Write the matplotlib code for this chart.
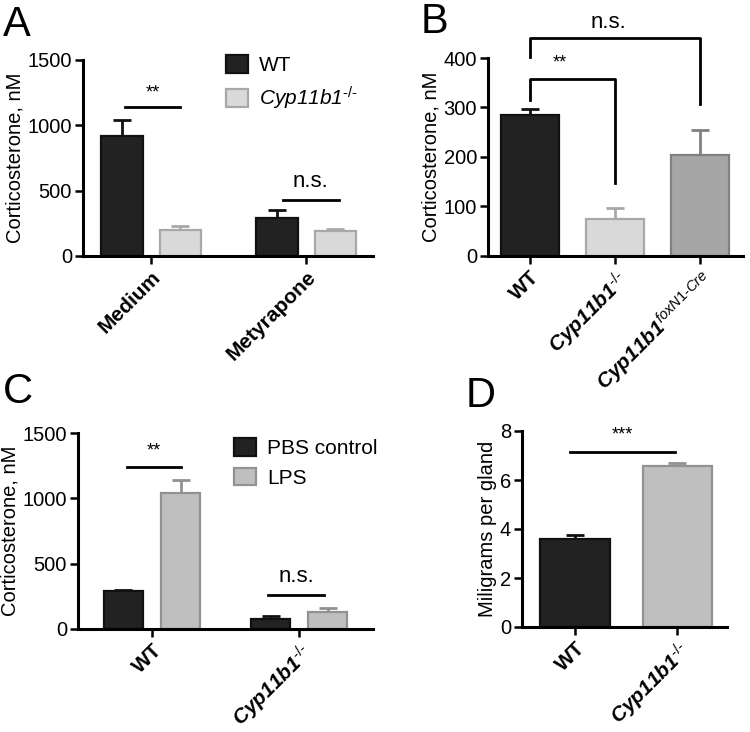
import numpy as np
import matplotlib
matplotlib.use('Agg')
import matplotlib.pyplot as plt
from matplotlib.patches import Patch

plt.rcParams['font.family'] = ['Liberation Sans', 'DejaVu Sans']
plt.rcParams['mathtext.fontset'] = 'custom'
plt.rcParams['mathtext.rm'] = 'Liberation Sans'
plt.rcParams['mathtext.it'] = 'Liberation Sans:italic'
plt.rcParams['mathtext.bf'] = 'Liberation Sans:bold'

# Панель A
a_groups = ['Medium', 'Metyrapone']
a_wt = [920, 290]
a_wt_err = [120, 65]
a_ko = [200, 195]
a_ko_err = [30, 15]

# Панель B
b_labels = ['WT', r'Cyp11b1$^{\text{-/-}}$', r'Cyp11b1$^{foxN1\text{-}Cre}$']
b_vals = [285, 75, 205]
b_err = [12, 22, 50]

# Панель C
c_groups = ['WT', r'Cyp11b1$^{\text{-/-}}$']
c_pbs = [290, 75]
c_pbs_err = [10, 25]
c_lps = [1040, 130]
c_lps_err = [100, 30]

# Панель D
d_labels = ['WT', r'Cyp11b1$^{\text{-/-}}$']
d_vals = [3.6, 6.57]
d_err = [0.15, 0.13]

BLACK = '#222222'
BLACK_E = '#111111'
LIGHT = '#d9d9d9'
LIGHT_E = '#a8a8a8'
MID = '#bfbfbf'
MID_E = '#929292'
DARK = '#a6a6a6'
DARK_E = '#808080'

W, H = 750, 732
fig = plt.figure(figsize=(7.5, 7.32), dpi=100)


def add_axes(l, r, b, t):
    return fig.add_axes([l / W, 1 - b / H, (r - l) / W, (b - t) / H])


def style(ax):
    for s in ['top', 'right']:
        ax.spines[s].set_visible(False)
    for s in ['left', 'bottom']:
        ax.spines[s].set_linewidth(2.2)
    ax.tick_params(axis='both', length=6, width=1.8, labelsize=14.5, pad=2)
    ax.tick_params(axis='x', length=6, pad=2)


def bars(ax, x, vals, errs, width, fc, ec):
    ax.bar(x, vals, width=width, color=fc, edgecolor=ec, linewidth=1.6, zorder=2)
    ax.errorbar(x, vals, yerr=[np.zeros(len(vals)), errs], fmt='none',
                ecolor=ec, elinewidth=2, capsize=6.5, capthick=2, zorder=1)


def xlabels(ax, labels):
    ax.set_xticks(np.arange(len(labels)))
    ax.set_xticklabels(labels, rotation=45, ha='right', rotation_mode='anchor',
                       fontweight='bold', fontsize=15)
    for t in ax.get_xticklabels():
        if t.get_text().startswith('Cyp'):
            t.set_fontstyle('italic')


def sig(ax, x0, x1, y, text, ty, fs=13):
    ax.plot([x0, x1], [y, y], color='black', lw=2, clip_on=False)
    ax.text((x0 + x1) / 2, ty, text, ha='center', va='center', fontsize=fs)


def legend(ax, colors, labels, x, y):
    leg = ax.legend(handles=[Patch(facecolor=fc, edgecolor=ec, lw=1.6) for fc, ec in colors],
                    labels=labels, loc='upper left', bbox_to_anchor=(x / W, 1 - y / H),
                    bbox_transform=fig.transFigure, frameon=False, fontsize=15,
                    handlelength=1.05, handleheight=0.95, handletextpad=0.55,
                    labelspacing=0.45, borderaxespad=0, borderpad=0)
    for t in leg.get_texts():
        if t.get_text().startswith('Cyp'):
            t.set_fontstyle('italic')


# ---- A ----
ax = add_axes(83, 373, 256, 60)
style(ax)
x = np.arange(len(a_groups))
bars(ax, x - 0.19, a_wt, a_wt_err, 0.27, BLACK, BLACK_E)
bars(ax, x + 0.19, a_ko, a_ko_err, 0.27, LIGHT, LIGHT_E)
ax.set_xlim(-0.439, 1.432)
ax.set_ylim(0, 1500)
ax.set_yticks([0, 500, 1000, 1500])
xlabels(ax, a_groups)
ax.set_ylabel('Corticosterone, nM', fontsize=14.5, labelpad=2)
sig(ax, -0.17, 0.19, 1140, '**', 1250)
sig(ax, 0.85, 1.21, 428, 'n.s.', 570, fs=16)
legend(ax, [(BLACK, BLACK_E), (LIGHT, LIGHT_E)], ['WT', r'Cyp11b1$^{\text{-/-}}$'], 226, 55)
fig.text(3 / W, 1 - 25 / H, 'A', fontsize=30, va='center', ha='left')

# ---- B ----
ax = add_axes(488, 743, 256, 58)
style(ax)
x = np.arange(len(b_vals))
for i, (fc, ec) in enumerate([(BLACK, BLACK_E), (LIGHT, LIGHT_E), (DARK, DARK_E)]):
    bars(ax, [x[i]], [b_vals[i]], [b_err[i]], 0.68, fc, ec)
ax.set_xlim(-0.49, 2.5)
ax.set_ylim(0, 400)
ax.set_yticks([0, 100, 200, 300, 400])
xlabels(ax, b_labels)
ax.set_ylabel('Corticosterone, nM', fontsize=14.5, labelpad=2)
ax.plot([0, 0, 1, 1], [315, 357, 357, 148], color='black', lw=2, clip_on=False)
ax.text(0.35, 390, '**', ha='center', va='center', fontsize=13)
ax.plot([0, 0, 2, 2], [402, 440, 440, 307], color='black', lw=2, clip_on=False)
ax.text(0.92, 472, 'n.s.', ha='center', va='center', fontsize=16)
fig.text(421 / W, 1 - 22 / H, 'B', fontsize=30, va='center', ha='left')

# ---- C ----
ax = add_axes(78, 373, 629, 433)
style(ax)
x = np.arange(len(c_groups))
bars(ax, x - 0.194, c_pbs, c_pbs_err, 0.265, BLACK, BLACK_E)
bars(ax, x + 0.194, c_lps, c_lps_err, 0.265, MID, MID_E)
ax.set_xlim(-0.503, 1.503)
ax.set_ylim(0, 1500)
ax.set_yticks([0, 500, 1000, 1500])
xlabels(ax, c_groups)
ax.set_ylabel('Corticosterone, nM', fontsize=14.5, labelpad=2)
sig(ax, -0.17, 0.2, 1240, '**', 1365)
sig(ax, 0.79, 1.17, 260, 'n.s.', 405, fs=16)
legend(ax, [(BLACK, BLACK_E), (MID, MID_E)], ['PBS control', 'LPS'], 234, 438)
fig.text(3 / W, 1 - 392 / H, 'C', fontsize=30, va='center', ha='left')

# ---- D ----
ax = add_axes(522, 727, 627, 431)
style(ax)
x = np.arange(len(d_vals))
bars(ax, [x[0]], [d_vals[0]], [d_err[0]], 0.68, BLACK, BLACK_E)
bars(ax, [x[1]], [d_vals[1]], [d_err[1]], 0.68, MID, MID_E)
ax.set_xlim(-0.517, 1.483)
ax.set_ylim(0, 8)
ax.set_yticks([0, 2, 4, 6, 8])
xlabels(ax, d_labels)
ax.set_ylabel('Miligrams per gland', fontsize=14.5, labelpad=2)
sig(ax, -0.05, 0.98, 7.14, '***', 7.82)
fig.text(466 / W, 1 - 396 / H, 'D', fontsize=30, va='center', ha='left')

fig.savefig('out.png', dpi=100)
